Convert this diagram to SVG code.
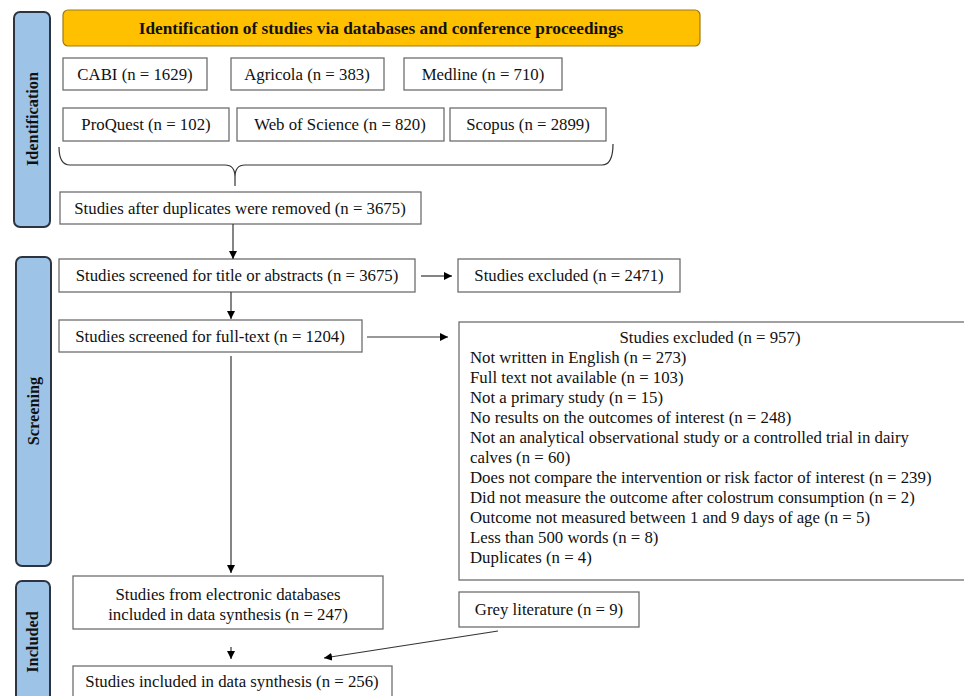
<svg xmlns="http://www.w3.org/2000/svg" width="964" height="696" viewBox="0 0 964 696">
<defs>
<marker id="ah" viewBox="0 0 10 10" refX="10" refY="5" markerWidth="8" markerHeight="8" markerUnits="userSpaceOnUse" orient="auto">
<path d="M0,0 L10,5 L0,10 z" fill="#000"/>
</marker>
</defs>
<style>
.box{fill:#fff;stroke:#6e6e6e;stroke-width:1.3}
.side{fill:#9DC3E6;stroke:#2b3440;stroke-width:2}
.t{font-family:"Liberation Serif","Times New Roman",serif;font-size:16.8px;fill:#111}
.c{text-anchor:middle}
.b{font-weight:bold;font-size:16.3px}
.tb{font-size:17.3px}
.ln{fill:none;stroke:#333;stroke-width:1.2}
.ar{fill:none;stroke:#333;stroke-width:1.2;marker-end:url(#ah)}
</style>
<rect width="964" height="696" fill="#fff"/>

<g id="side-identification">
<rect class="side" x="14" y="12" width="36" height="215" rx="6"/>
<text class="t b c" transform="translate(38,119) rotate(-90)">Identification</text>
</g>
<g id="side-screening">
<rect class="side" x="16" y="257" width="35" height="309" rx="6"/>
<text class="t b c" transform="translate(39,411) rotate(-90)">Screening</text>
</g>
<g id="side-included">
<rect class="side" x="16" y="581" width="34" height="125" rx="6"/>
<text class="t b c" transform="translate(38,642) rotate(-90)">Included</text>
</g>

<g id="title">
<rect x="63" y="10" width="637" height="36" rx="5" fill="#FFC000" stroke="#a07a10" stroke-width="1.2"/>
<text class="t b tb c" x="381" y="34">Identification of studies via databases and conference proceedings</text>
</g>

<g id="cabi"><rect class="box" x="63" y="58" width="144" height="32"/><text class="t c" x="135" y="80">CABI (n = 1629)</text></g>
<g id="agricola"><rect class="box" x="231" y="58" width="153" height="32"/><text class="t c" x="307" y="80">Agricola (n = 383)</text></g>
<g id="medline"><rect class="box" x="404" y="58" width="158" height="32"/><text class="t c" x="483" y="80">Medline (n = 710)</text></g>
<g id="proquest"><rect class="box" x="63" y="108" width="166" height="33"/><text class="t c" x="146" y="130">ProQuest (n = 102)</text></g>
<g id="wos"><rect class="box" x="237" y="108" width="207" height="33"/><text class="t c" x="340" y="130">Web of Science (n = 820)</text></g>
<g id="scopus"><rect class="box" x="450" y="108" width="156" height="33"/><text class="t c" x="528" y="130">Scopus (n = 2899)</text></g>

<g id="dedup"><rect class="box" x="60" y="192" width="361" height="32"/><text class="t c" x="240" y="214">Studies after duplicates were removed (n = 3675)</text></g>
<g id="screen-title"><rect class="box" x="59" y="259" width="356" height="33"/><text class="t c" x="237" y="281">Studies screened for title or abstracts (n = 3675)</text></g>
<g id="excluded-2471"><rect class="box" x="458" y="259" width="222" height="33"/><text class="t c" x="569" y="281">Studies excluded (n = 2471)</text></g>
<g id="screen-full"><rect class="box" x="59" y="320" width="303" height="32"/><text class="t c" x="210" y="342">Studies screened for full-text (n = 1204)</text></g>

<g id="excluded-957">
<rect class="box" x="459" y="322" width="510" height="258"/>
<text class="t c" x="710" y="343">Studies excluded (n = 957)</text>
<text class="t" x="470" y="363">Not written in English (n = 273)</text>
<text class="t" x="470" y="383">Full text not available (n = 103)</text>
<text class="t" x="470" y="403">Not a primary study (n = 15)</text>
<text class="t" x="470" y="423">No results on the outcomes of interest (n = 248)</text>
<text class="t" x="470" y="443">Not an analytical observational study or a controlled trial in dairy</text>
<text class="t" x="470" y="463">calves (n = 60)</text>
<text class="t" x="470" y="483">Does not compare the intervention or risk factor of interest (n = 239)</text>
<text class="t" x="470" y="503">Did not measure the outcome after colostrum consumption (n = 2)</text>
<text class="t" x="470" y="523">Outcome not measured between 1 and 9 days of age (n = 5)</text>
<text class="t" x="470" y="543">Less than 500 words (n = 8)</text>
<text class="t" x="470" y="563">Duplicates (n = 4)</text>
</g>

<g id="electronic"><rect class="box" x="73" y="576" width="310" height="53"/>
<text class="t c" x="228" y="600">Studies from electronic databases</text>
<text class="t c" x="228" y="620">included in data synthesis (n = 247)</text></g>
<g id="grey"><rect class="box" x="459" y="592" width="180" height="35"/><text class="t c" x="549" y="615">Grey literature (n = 9)</text></g>
<g id="final"><rect class="box" x="73" y="666" width="319" height="40"/><text class="t c" x="232" y="687">Studies included in data synthesis (n = 256)</text></g>

<g id="connectors">
<path class="ln" d="M59,147 Q59,165 70,165 L225,165 Q235,165 235,177 Q235,165 245,165 L602,165 Q613,165 613,144"/>
<path class="ln" d="M235,177 L235,186"/>
<path class="ar" d="M233,224 L233,259"/>
<path class="ar" d="M421,276 L452,276"/>
<path class="ar" d="M231,292 L231,319"/>
<path class="ar" d="M367,337 L448,337"/>
<path class="ar" d="M231,356 L231,573"/>
<path class="ar" d="M231,647 L231,659"/>
<path class="ar" d="M498,631 L324,658"/>
</g>
</svg>
